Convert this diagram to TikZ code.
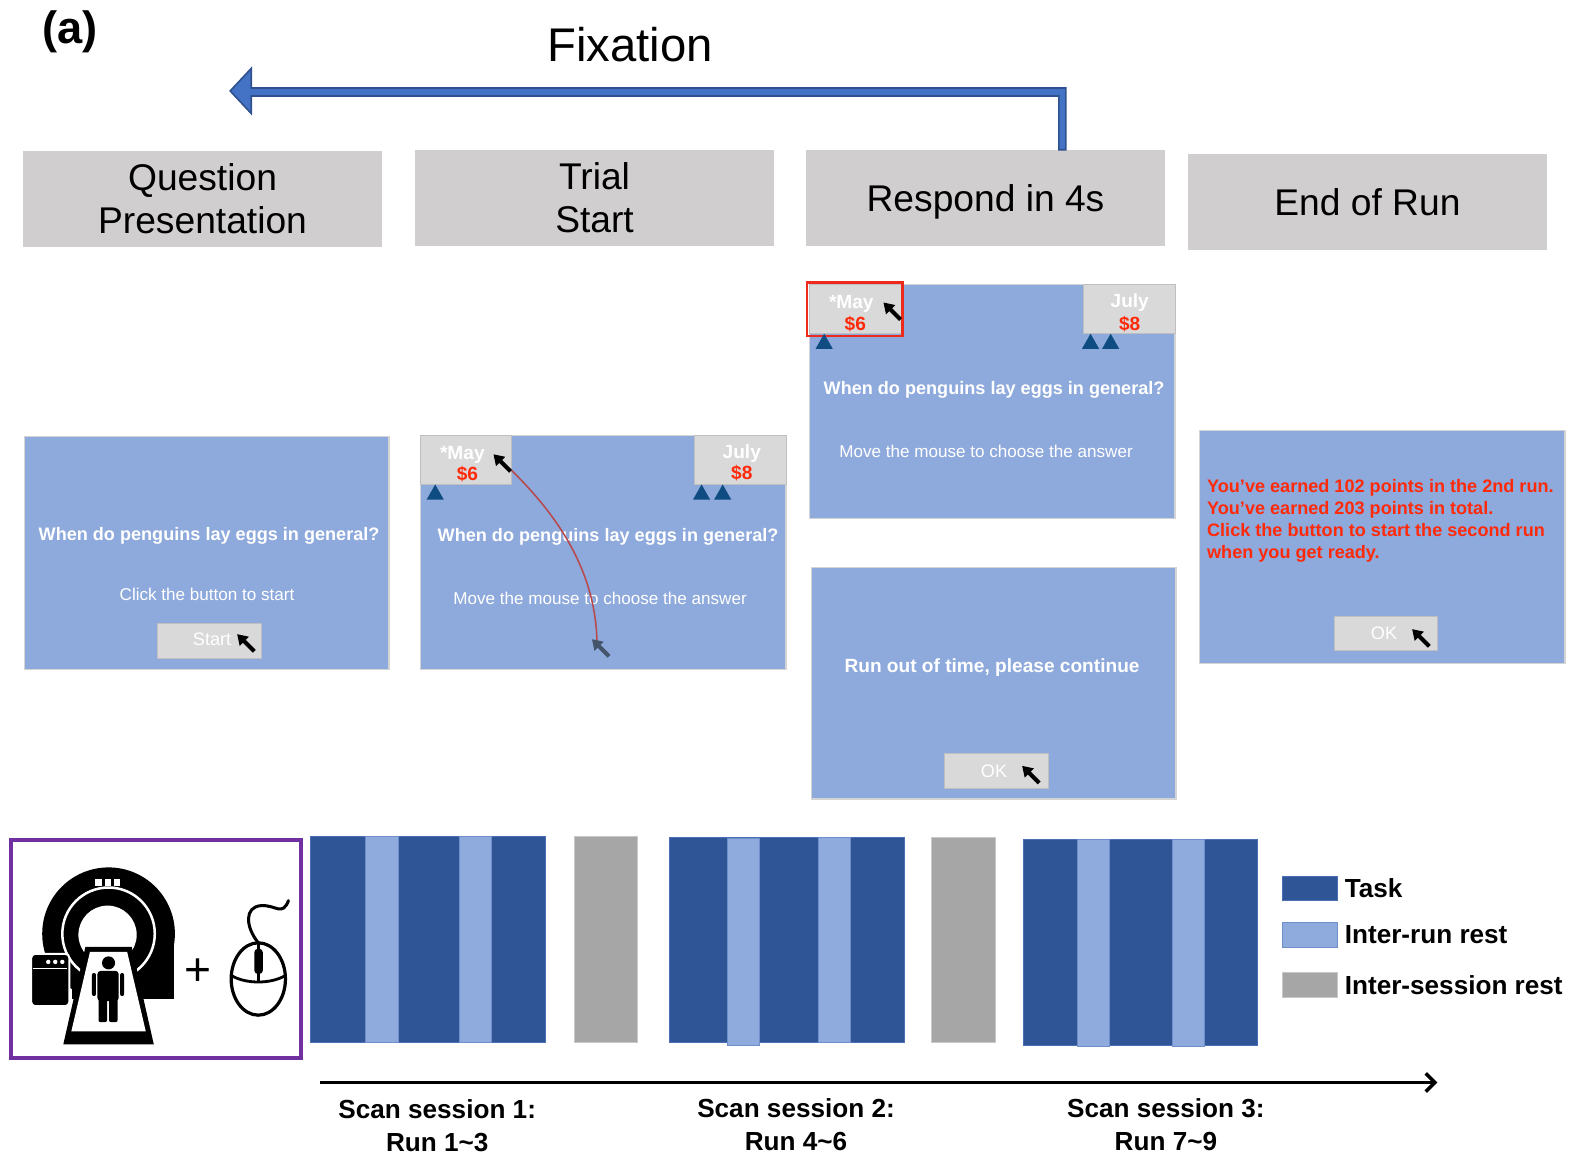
\documentclass[tikz,border=0pt]{standalone}
\usepackage{fontspec}
\setmainfont{Liberation Sans}
\usetikzlibrary{arrows.meta}
\definecolor{hdrgray}{HTML}{D0CECE}
\definecolor{scrblue}{HTML}{8EA9DB}
\definecolor{scrline}{HTML}{D4D4D4}
\definecolor{ansgray}{HTML}{D9D9D9}
\definecolor{ansline}{HTML}{BFBFBF}
\definecolor{taskblue}{HTML}{2F5597}
\definecolor{taskline}{HTML}{4A6FB5}
\definecolor{restblue}{HTML}{8FAADC}
\definecolor{restline}{HTML}{6F8FCB}
\definecolor{sessgray}{HTML}{A6A6A6}
\definecolor{sessline}{HTML}{C8C8C8}
\definecolor{trisblue}{HTML}{0F4C81}
\definecolor{purp}{HTML}{7030A0}
\definecolor{fixfill}{HTML}{4472C4}
\definecolor{fixedge}{HTML}{2F528F}
\definecolor{redtxt}{HTML}{FF2A0A}
\definecolor{selred}{HTML}{EE2A1B}
\definecolor{pathred}{HTML}{B8484A}
\definecolor{slatecur}{HTML}{44546A}
\newcommand{\fsz}[2]{\fontsize{#1}{#2}\selectfont}
\begin{document}
\begin{tikzpicture}[x=1pt,y=-1pt,
  every node/.style={inner sep=0pt, outer sep=0pt},
  hdr/.style={fill=hdrgray, minimum width=357, minimum height=96, anchor=north west,
    align=center, font=\fsz{37}{43}},
  screen/.style={fill=scrblue, draw=scrline, line width=1.2, anchor=north west},
  ansbox/.style={fill=ansgray, draw=ansline, line width=0.8, anchor=north west,
    minimum width=91, minimum height=49},
  btn/.style={fill=ansgray, draw=ansline, line width=0.8, anchor=north west,
    minimum width=103, minimum height=35},
  qtxt/.style={text=white, font=\bfseries\fsz{18}{22}},
  mtxt/.style={text=white, font=\fsz{17}{20}},
  wtxt/.style={text=white, font=\bfseries\fsz{19}{22}},
  rtxt/.style={text=redtxt, font=\bfseries\fsz{19}{22}},
  btxt/.style={text=white, font=\fsz{18}{22}},
  taskbar/.style={fill=taskblue, draw=taskline, line width=0.8, anchor=north west},
  restbar/.style={fill=restblue, draw=restline, line width=0.8, anchor=north west},
  sessbar/.style={fill=sessgray, draw=sessline, line width=0.8, anchor=north west},
  legtxt/.style={anchor=west, font=\bfseries\fsz{26}{30}},
  sesslbl/.style={align=center, font=\bfseries\fsz{26}{32}},
  cursor/.pic={\fill (0,0) -- (-6.5,10) -- (-2,10) -- (-2,24) -- (2,24) -- (2,10) -- (6.5,10) -- cycle;},
  uptri/.pic={\fill[trisblue] (-8.5,0) -- (8.5,0) -- (0,-15) -- cycle;}
]
\path[use as bounding box] (0,0) rectangle (1568,1149);

% panel label and title
\node[font=\bfseries\fsz{45}{50}] (panel) at (70,32) {(a)};
\node[font=\fsz{47}{52}] (fix) at (627,44) {Fixation};

% stage headers
\node[hdr] (hq) at (23,150) {Question\\Presentation};
\node[hdr] (ht) at (413,149) {Trial\\Start};
\node[hdr, text depth=0pt] (hr) at (802,149) {Respond in 4s};
\node[hdr] (he) at (1182,153) {End of Run};

% fixation return arrow
\coordinate (fixtip) at (229,90.5);
\coordinate (hdtop) at (250,68);
\coordinate (hdbot) at (250,113);
\coordinate (shtop) at (250,87.5);
\coordinate (shbot) at (250,95.5);
\filldraw[fill=fixfill, draw=fixedge, line width=1.6, line join=miter]
  ([xshift=80]hr.north) -- ([xshift=80]hr.north |- shtop) -- (shtop) -- (hdtop)
  -- (fixtip) -- (hdbot) -- (shbot) -- ([xshift=73]hr.north |- shbot)
  -- ([xshift=73]hr.north) -- cycle;

% screen 1: question presentation
\node[screen, minimum width=363, minimum height=232] (s1) at (24,434) {};
\node[qtxt] (s1q) at (208,533) {When do penguins lay eggs in general?};
\node[mtxt] (s1m) at (206,591) {Click the button to start};
\node[btn] (s1b) at (157,620) {};
\node[btxt] (s1bt) at (211,636) {Start};
\pic[rotate=45] at (236,631) {cursor};

% screen 2: trial start
\node[screen, minimum width=364, minimum height=233] (s2) at (418,433) {};
\node[ansbox] (s2a) at (418,433) {};
\node[ansbox] (s2b) at (691,433) {};
\node[wtxt] (s2am) at (460,453) {*May};
\node[rtxt] (s2av) at (465,472) {\$6};
\node[wtxt] (s2bm) at (738,451) {July};
\node[rtxt] (s2bv) at (738,471) {\$8};
\pic at (433,497) {uptri};
\pic at (698,497) {uptri};
\pic at (719,497) {uptri};
\node[qtxt] (s2q) at (605,534) {When do penguins lay eggs in general?};
\node[mtxt] (s2m) at (597,595) {Move the mouse to choose the answer};
\coordinate (mstart) at (509,468);
\coordinate (mend) at (594,640);
\draw[pathred, line width=1.5] (mstart) .. controls (562,520) and (593,575) .. (mend);
\pic[rotate=45] at (491,452) {cursor};
\pic[rotate=45, slatecur] at (589,636) {cursor};

% screen 3: response window
\node[screen, minimum width=364, minimum height=233] (s3) at (805,283) {};
\node[ansbox, minimum width=92] (s3a) at (805,283) {};
\node[ansbox] (s3b) at (1078,283) {};
\node[draw=selred, line width=2.2, anchor=north west, minimum width=95, minimum height=53] (s3sel) at (803,281) {};
\node[wtxt] (s3am) at (847,302) {*May};
\node[rtxt] (s3av) at (851,322) {\$6};
\node[wtxt] (s3bm) at (1124,301) {July};
\node[rtxt] (s3bv) at (1124,322) {\$8};
\pic at (820,347) {uptri};
\pic at (1085,347) {uptri};
\pic at (1105,347) {uptri};
\pic[rotate=45] at (879,301) {cursor};
\node[qtxt] (s3q) at (989,388) {When do penguins lay eggs in general?};
\node[mtxt] (s3m) at (981,449) {Move the mouse to choose the answer};

% screen 4: timeout
\node[screen, minimum width=363, minimum height=230] (s4) at (807,565) {};
\node[qtxt, font=\bfseries\fsz{19}{22}] (s4q) at (987,664) {Run out of time, please continue};
\node[btn, minimum height=34] (s4b) at (940,750) {};
\node[btxt] (s4bt) at (989,767) {OK};
\pic[rotate=45] at (1017,762) {cursor};

% screen 5: end of run
\node[screen, minimum width=364, minimum height=232] (s5) at (1193,428) {};
\node[anchor=north west, align=left, text=redtxt, font=\bfseries\fsz{18}{22}] (s5t) at (1201,477)
  {You’ve earned 102 points in the 2nd run.\\You’ve earned 203 points in total.\\Click the button to start the second run\\when you get ready.};
\node[btn, minimum width=102, minimum height=34] (s5b) at (1328,613) {};
\node[btxt] (s5bt) at (1377,630) {OK};
\pic[rotate=45] at (1405,626) {cursor};

% scanner and mouse
\node[draw=purp, line width=4, anchor=north west, minimum width=288, minimum height=217] (scanner) at (11,836) {};
\fill[black] (108,929) circle (66);
\fill[black] (72,929) rectangle (173,994);
\draw[white, line width=2.5] (108,929) circle (46);
\fill[white] (107,930) circle (29);
\fill[white] (95,875) rectangle (101,881);
\fill[white] (104,875) rectangle (110,881);
\fill[white] (113,875) rectangle (119,881);
\fill[black] (85,942) -- (131,942) -- (153,1039) -- (63,1039) -- cycle;
\fill[white] (89.5,947) -- (126.5,947) -- (145,1026) -- (71,1026) -- cycle;
\fill[black] (108,958) circle (6.5);
\fill[black, rounded corners=3] (97,966) rectangle (118,996);
\fill[black, rounded corners=2] (91.5,968) rectangle (95.5,991);
\fill[black, rounded corners=2] (119.5,968) rectangle (123.5,991);
\fill[black, rounded corners=2] (98,994) rectangle (106.5,1017);
\fill[black, rounded corners=2] (108.5,994) rectangle (117,1017);
\filldraw[fill=black, draw=white, line width=2, rounded corners=4] (31,949) rectangle (69,1001);
\fill[white] (48,957) circle (2.2);
\fill[white] (55,957) circle (2.2);
\fill[white] (62,957) circle (2.2);
\draw[white, line width=1.4] (33,963.5) -- (67,963.5);
\node[font=\fsz{46}{50}] (plus) at (197,967) {+};
\draw[line width=3.2, fill=white] (257,974) ellipse [x radius=27, y radius=36];
\draw[line width=2.8] (231,971) .. controls (245,979) and (269,979) .. (283,971);
\draw[line width=2.8] (257,938) -- (257,976);
\fill[black, rounded corners=3.5] (253,944) rectangle (261.5,969);
\draw[line width=3, line cap=round] (257,938) .. controls (244,922) and (243,902) .. (260,901)
  .. controls (274,900) and (281,912) .. (287,896);

% scan sessions
\node[taskbar, minimum width=234, minimum height=205] (ses1) at (309,832) {};
\node[restbar, minimum width=32, minimum height=205] (r11) at (364,832) {};
\node[restbar, minimum width=32, minimum height=205] (r12) at (457,832) {};
\node[sessbar, minimum width=63, minimum height=205] (gap1) at (571,832) {};
\node[taskbar, minimum width=234, minimum height=204] (ses2) at (666,833) {};
\node[restbar, minimum width=32, minimum height=206] (r21) at (724,834) {};
\node[restbar, minimum width=32, minimum height=204] (r22) at (814,833) {};
\node[sessbar, minimum width=63, minimum height=204] (gap2) at (927,833) {};
\node[taskbar, minimum width=233, minimum height=205] (ses3) at (1018,835) {};
\node[restbar, minimum width=32, minimum height=206] (r31) at (1072,835) {};
\node[restbar, minimum width=32, minimum height=206] (r32) at (1166,835) {};

% legend
\node[taskbar, minimum width=55, minimum height=24] (lg1) at (1276,872) {};
\node[legtxt] (lg1t) at (1338,884) {Task};
\node[restbar, minimum width=55, minimum height=25] (lg2) at (1276,918) {};
\node[legtxt] (lg2t) at (1338,930) {Inter-run rest};
\node[sessbar, minimum width=55, minimum height=25] (lg3) at (1276,967) {};
\node[legtxt] (lg3t) at (1338,980) {Inter-session rest};

% time axis
\coordinate (t0) at (318,1077);
\coordinate (t1) at (1430,1077);
\draw[line width=3.5, -{Straight Barb[length=9, width=18]}] (t0) -- (t1);
\node[sesslbl] (l1) at (435,1120) {Scan session 1:\\Run 1\textasciitilde3};
\node[sesslbl] (l2) at (792,1119) {Scan session 2:\\Run 4\textasciitilde6};
\node[sesslbl] (l3) at (1160,1119) {Scan session 3:\\Run 7\textasciitilde9};
\end{tikzpicture}
\end{document}
